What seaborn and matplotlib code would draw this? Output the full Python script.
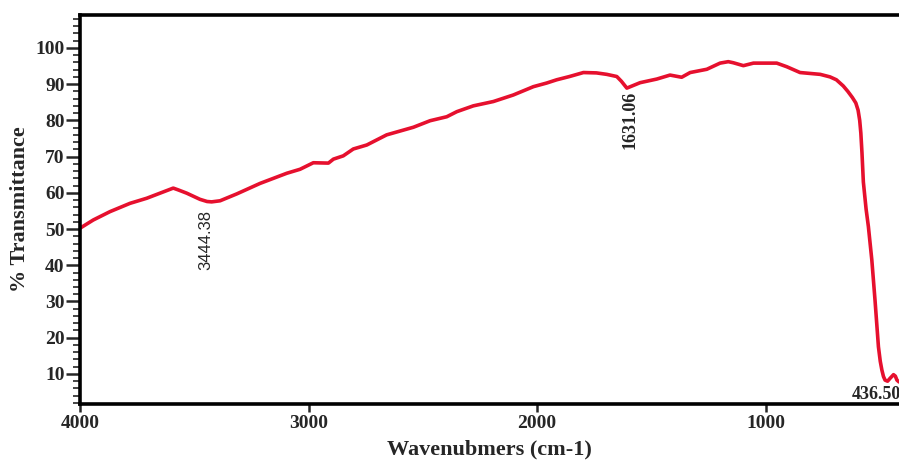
import matplotlib
matplotlib.use("Agg")
import matplotlib.pyplot as plt
import numpy as np
import pandas as pd
import seaborn as sns
from matplotlib.ticker import MultipleLocator

# values
wavenumber = [
    4000, 3993, 3942, 3869, 3781, 3708, 3650, 3592, 3570, 3533, 3475, 3444,
    3424, 3387, 3314, 3212, 3095, 3037, 2979, 2913, 2891, 2848, 2804, 2745,
    2658, 2541, 2468, 2395, 2351, 2279, 2191, 2104, 2016, 1958, 1914, 1858,
    1797, 1740, 1695, 1651, 1631, 1607, 1549, 1476, 1418, 1367, 1330, 1257,
    1199, 1163, 1141, 1097, 1053, 951, 907, 849, 761, 718, 690, 660, 640,
    620, 605, 595, 588, 583, 578, 572, 560, 550, 535, 521, 506, 498, 491,
    484, 477, 466, 455, 440, 432, 425, 416,
]
transmittance = [
    50.2, 50.5, 52.5, 54.8, 57.1, 58.5, 59.9, 61.3, 60.8, 59.9, 58.2, 57.6,
    57.5, 57.8, 59.7, 62.6, 65.4, 66.5, 68.3, 68.2, 69.3, 70.2, 72.1, 73.2,
    76.0, 78.1, 79.9, 81.0, 82.4, 84.0, 85.2, 87.0, 89.3, 90.3, 91.2, 92.1,
    93.2, 93.1, 92.7, 92.1, 90.8, 88.9, 90.4, 91.4, 92.5, 91.9, 93.2, 94.1,
    95.8, 96.2, 95.9, 95.1, 95.8, 95.8, 94.8, 93.2, 92.7, 92.0, 91.2, 89.5,
    88.0, 86.3, 84.8, 82.8, 80.0, 76.5, 71.0, 63.0, 55.5, 50.7, 41.5, 30.4,
    17.5, 13.5, 11.1, 9.3, 8.3, 8.0, 8.8, 9.8, 9.4, 8.3, 7.8,
]

peak_labels = ["3444.38", "1631.06", "436.50"]

spectrum = pd.DataFrame({"wavenumber": wavenumber, "transmittance": transmittance})

sns.set_style("ticks")
plt.rcParams["font.family"] = ["Liberation Serif", "DejaVu Serif"]

fig = plt.figure(figsize=(8.99, 4.61), dpi=100)
ax = fig.add_axes([0.089, 0.1236, 0.911, 0.844])

sns.lineplot(
    data=spectrum, x="wavenumber", y="transmittance", ax=ax,
    color="#E6102E", linewidth=2.6, sort=False,
)

ax.set_xlim(4000, 416)
ax.set_ylim(1.7, 109.1)
ax.set_xticks([4000, 3000, 2000, 1000])
ax.set_yticks(np.arange(10, 101, 10))
ax.yaxis.set_minor_locator(MultipleLocator(2))

for side in ["left", "top", "bottom"]:
    ax.spines[side].set_linewidth(2.6)
    ax.spines[side].set_color("black")
ax.spines["right"].set_visible(False)

ax.tick_params(axis="y", which="major", length=10, width=1.8, labelsize=14, pad=1)
ax.tick_params(axis="y", which="minor", length=5, width=1.2)
ax.tick_params(axis="x", which="major", length=6, width=1.8, labelsize=14, pad=2)
for lab in ax.get_xticklabels() + ax.get_yticklabels():
    lab.set_fontweight("bold")

ax.set_xlabel("Wavenubmers (cm-1)", fontsize=16, fontweight="bold", labelpad=5)
ax.set_ylabel("% Transmittance", fontsize=16, fontweight="bold", labelpad=4)

ax.text(3449, 47.0, peak_labels[0], rotation=90, ha="center", va="center",
        fontsize=12, family=["Liberation Sans", "DejaVu Sans"])
ax.text(1593, 80.1, peak_labels[1], rotation=90, ha="center", va="center",
        fontsize=13, fontweight="bold")
ax.text(621, 1.9, peak_labels[2], ha="left", va="bottom",
        fontsize=13, fontweight="bold")

fig.savefig("out.png", dpi=100)
